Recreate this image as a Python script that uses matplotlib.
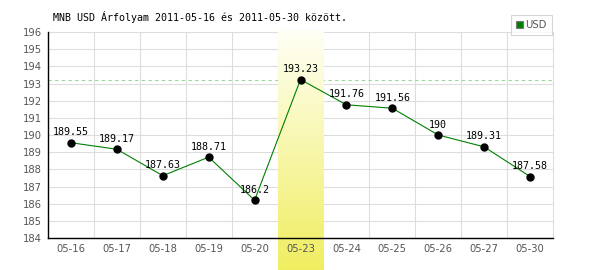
import numpy as np
import matplotlib
matplotlib.use("Agg")
import matplotlib.pyplot as plt
from matplotlib.patches import Patch
from matplotlib.colors import LinearSegmentedColormap

dates = ["05-16", "05-17", "05-18", "05-19", "05-20", "05-23",
         "05-24", "05-25", "05-26", "05-27", "05-30"]
values = [189.55, 189.17, 187.63, 188.71, 186.2, 193.23,
          191.76, 191.56, 190, 189.31, 187.58]
yticks = list(range(184, 197))
highlight = "05-23"
title = "MNB USD Árfolyam 2011-05-16 és 2011-05-30 között."
series_name = "USD"

W, H = 600, 270
fig = plt.figure(figsize=(W / 100, H / 100), dpi=100)
ax_l, ax_r, ax_t, ax_b = 48, 553, 32, 238
ax = fig.add_axes([ax_l / W, (H - ax_b) / H, (ax_r - ax_l) / W, (ax_b - ax_t) / H])

x = np.arange(len(dates))
grid_col = "#dddddd"

# grid lines drawn as artists (below the band)
for yv in yticks:
    ax.axhline(yv, color=grid_col, lw=0.8, zorder=0.5, clip_on=False)
bounds = np.arange(-0.5, len(dates))
ax.vlines(bounds[1:], yticks[0], yticks[-1], color=grid_col, lw=0.8,
          zorder=0.5, clip_on=False)

# highlight gradient band
hi = dates.index(highlight)
grad = np.linspace(0, 1, 256).reshape(-1, 1)
cmap = LinearSegmentedColormap.from_list("band", ["#fffff6", "#f0ee60"])
ybot = -(H - ax_b) / (ax_b - ax_t)
ytop = 1 + 2 / (ax_b - ax_t)
ax.imshow(grad, cmap=cmap, extent=(hi - 0.5, hi + 0.5, ybot, ytop),
          transform=ax.get_xaxis_transform(), aspect="auto", origin="upper",
          clip_on=False, zorder=1, interpolation="bilinear")

# max dashed line
ax.axhline(max(values), color="#99d699", lw=0.8, ls=(0, (3, 3)), zorder=0.8)

# series
ax.plot(x, values, color="#008000", lw=0.8, marker="o", ms=5,
        mfc="black", mec="black", zorder=3, clip_on=False)
for xi, v in zip(x, values):
    ax.annotate(f"{v:g}", (xi, v), xytext=(0, 7.5), textcoords="offset points",
                ha="center", va="center", fontsize=7.2,
                family="DejaVu Sans Mono", color="black", zorder=4)

ax.set_xlim(-0.5, len(dates) - 0.5)
ax.set_ylim(184.23, 196)
ax.set_yticks(yticks)
ax.set_xticks(x)
ax.set_xticklabels(dates)
ax.tick_params(axis="both", which="both", length=0)
ax.tick_params(axis="y", pad=4.3, labelsize=7.2, labelcolor="#555555")
ax.tick_params(axis="x", pad=4.5, labelsize=7.2, labelcolor="#555555")
ax.grid(False)

for sp in ["top", "right"]:
    ax.spines[sp].set_visible(False)
for sp in ["left", "bottom"]:
    ax.spines[sp].set_color("black")
    ax.spines[sp].set_linewidth(1.0)
    ax.spines[sp].set_zorder(2.5)

fig.text(53 / W, 1 - 17 / H, title, family="DejaVu Sans Mono", fontsize=7.2,
         va="center", ha="left", color="black")

leg = fig.legend(handles=[Patch(facecolor="#008000", edgecolor="#777777", lw=0.8)],
                 labels=[series_name], loc="upper right",
                 bbox_to_anchor=(552 / W, 1 - 15 / H), frameon=True, fancybox=False,
                 edgecolor="#cccccc", handlelength=0.7, handleheight=0.7,
                 handletextpad=0.3, borderpad=0.5, borderaxespad=0,
                 fontsize=7.2, labelcolor="#555555")
leg.get_frame().set_linewidth(0.8)

fig.savefig("out.png", dpi=100, facecolor="white")
